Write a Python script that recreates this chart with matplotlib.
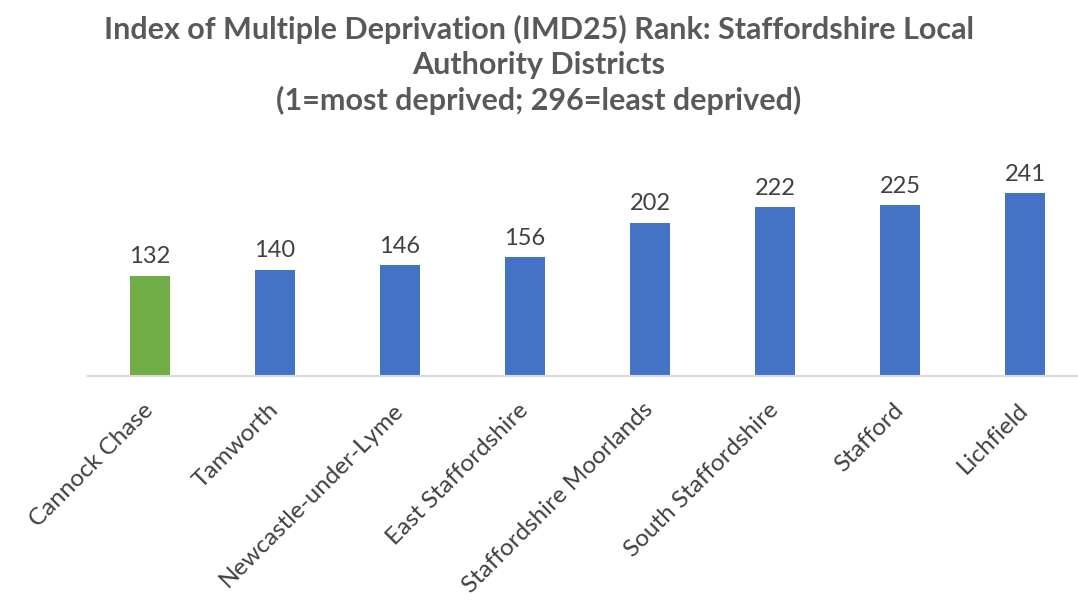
import matplotlib.pyplot as plt

districts = ['Cannock Chase', 'Tamworth', 'Newcastle-under-Lyme', 'East Staffordshire',
             'Staffordshire Moorlands', 'South Staffordshire', 'Stafford', 'Lichfield']
ranks = [132, 140, 146, 156, 202, 222, 225, 241]
highlight = 'Cannock Chase'

plt.rcParams['font.family'] = ['Lato', 'DejaVu Sans']

fig = plt.figure(figsize=(10.78, 6.02), dpi=100)
ax = fig.add_axes([0.0812, 0.3754, 0.9276, 0.3787])

colours = ['#70AD47' if d == highlight else '#4472C4' for d in districts]
x = range(len(districts))
bars = ax.bar(x, ranks, width=0.32, color=colours)

for b, v in zip(bars, ranks):
    ax.annotate(str(v), (b.get_x() + b.get_width() / 2, v), xytext=(0, 6),
                textcoords='offset points', ha='center', va='bottom',
                fontsize=17, color='#404040')

ax.set_xlim(-0.5, len(districts) - 0.5)
ax.set_ylim(0, 300)
ax.set_xticks(list(x))
ax.set_xticklabels(districts, rotation=45, ha='right', va='center',
                   rotation_mode='anchor', fontsize=17.5, color='#404040')
ax.tick_params(axis='x', length=0, pad=22)
ax.set_yticks([])
for s in ['top', 'right', 'left']:
    ax.spines[s].set_visible(False)
ax.spines['bottom'].set_color('#D9D9D9')
ax.spines['bottom'].set_linewidth(1.5)

fig.text(0.5, 0.975, 'Index of Multiple Deprivation (IMD25) Rank: Staffordshire Local\n'
         'Authority Districts\n(1=most deprived; 296=least deprived)',
         ha='center', va='top', fontsize=22, fontweight='bold', color='#595959',
         linespacing=1.3)

fig.savefig('out.png', dpi=100)
